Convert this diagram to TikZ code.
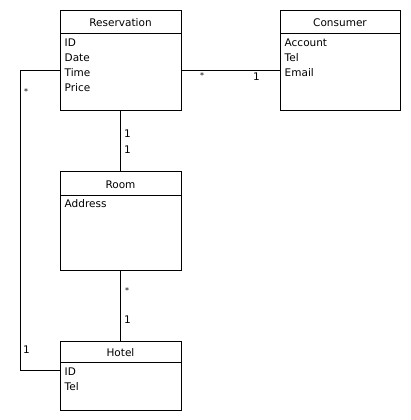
\documentclass[tikz,border=0pt]{standalone}
\usepackage{fontspec}
\setmainfont{DejaVu Sans}
\begin{document}
\begin{tikzpicture}[x=1pt,y=-1pt,
  cls/.style={draw,line width=0.9pt,minimum width=121pt,inner sep=0pt,outer sep=0pt},
  title/.style={font=\fontsize{10.5}{12}\selectfont,inner sep=0pt,anchor=base},
  attr/.style={font=\fontsize{10.5}{15}\selectfont,inner sep=0pt,anchor=north west,align=left},
  mult/.style={font=\fontsize{10.5}{12}\selectfont,inner sep=0pt,anchor=base west},
  star/.style={font=\fontsize{8}{10}\selectfont,inner sep=0pt,anchor=center},
  conn/.style={line width=0.9pt}]
\useasboundingbox (0,0) rectangle (410,420);
% Reservation
\node[cls,minimum height=100pt] (res) at (120.5,60) {};
\node[title] (restitle) at (120.5,27) {Reservation};
\draw[conn] (res.west |- 0,33) coordinate (resdl) -- (res.east |- 0,33) coordinate (resdr);
\node[attr] (resattr) at (64.5,38.5) {ID\\Date\\Time\\Price};
% Consumer
\node[cls,minimum width=120pt,minimum height=100pt] (con) at (340,60) {};
\node[title] (contitle) at (340,27) {Consumer};
\draw[conn] (con.west |- 0,33) coordinate (condl) -- (con.east |- 0,33) coordinate (condr);
\node[attr] (conattr) at (284.5,38.5) {Account\\Tel\\Email};
% Room
\node[cls,minimum height=99pt] (room) at (120.5,220.5) {};
\node[title] (roomtitle) at (120.5,188) {Room};
\draw[conn] (room.west |- 0,195) coordinate (roomdl) -- (room.east |- 0,195) coordinate (roomdr);
\node[attr] (roomattr) at (64.5,199) {Address};
% Hotel
\node[cls,minimum height=69pt] (hotel) at (120.5,375.5) {};
\node[title] (hoteltitle) at (120.5,356.5) {Hotel};
\draw[conn] (hotel.west |- 0,362.5) coordinate (hoteldl) -- (hotel.east |- 0,362.5) coordinate (hoteldr);
\node[attr] (hotelattr) at (64.5,368) {ID\\Tel};
% connectors
\draw[conn] ([yshift=-10pt]res.east) -- ([yshift=-10pt]con.west);
\draw[conn] (res.south) -- (room.north);
\draw[conn] (room.south) -- (hotel.north);
\coordinate (lt) at (20,70);
\coordinate (lb) at (20,370);
\draw[conn] ([yshift=-10pt]res.west) -- (lt) -- (lb) -- ([yshift=5.5pt]hotel.west);
% multiplicities
\node[star] (m1) at (202,76) {*};
\node[mult] (m2) at (253,81) {1};
\node[mult] (m3) at (124,137) {1};
\node[mult] (m4) at (124,153) {1};
\node[star] (m5) at (127,291) {*};
\node[mult] (m6) at (124,323) {1};
\node[star] (m7) at (26,92) {*};
\node[mult] (m8) at (23,353) {1};
\end{tikzpicture}
\end{document}
